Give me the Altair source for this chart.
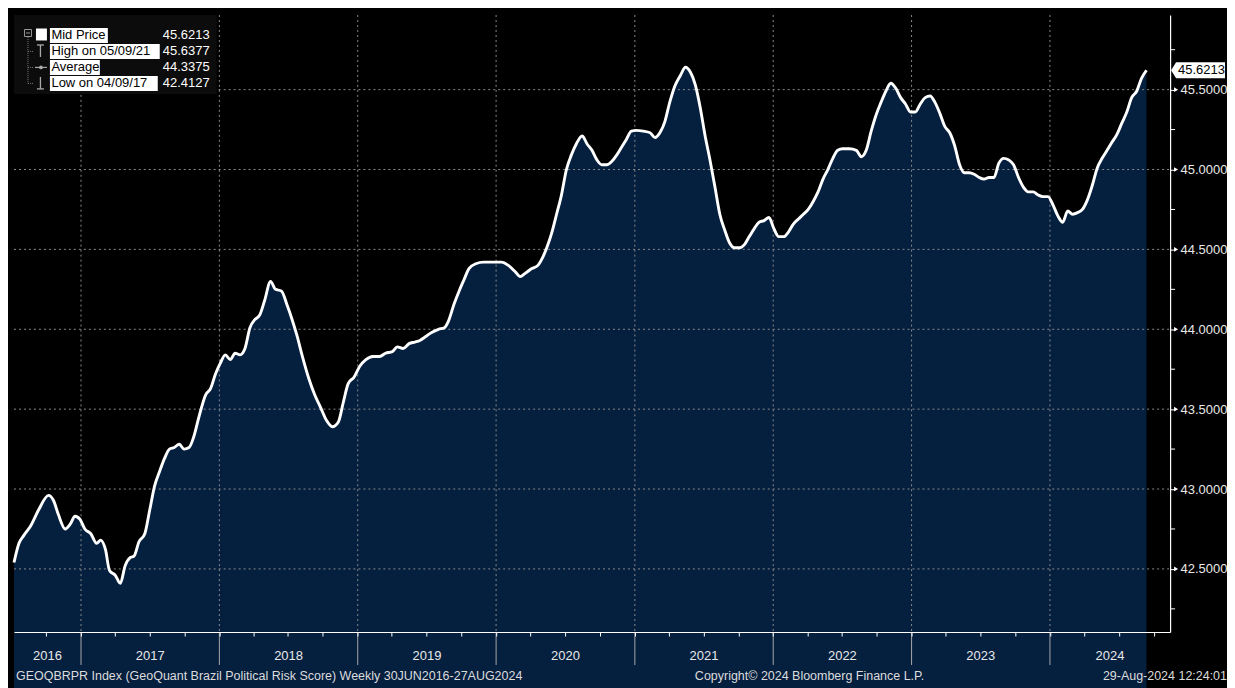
import altair as alt
import numpy as np
import pandas as pd

# ---------------- data ----------------
years = [2016.517, 2016.553, 2016.588, 2016.638, 2016.695, 2016.766, 2016.801, 2016.837, 2016.886, 2016.922,
         2016.957, 2016.993, 2017.028, 2017.071, 2017.113, 2017.142, 2017.177, 2017.206, 2017.248, 2017.284,
         2017.319, 2017.355, 2017.383, 2017.419, 2017.461, 2017.497, 2017.532, 2017.568, 2017.603, 2017.639,
         2017.674, 2017.710, 2017.745, 2017.781, 2017.816, 2017.852, 2017.901, 2017.937, 2017.972, 2018.008,
         2018.043, 2018.079, 2018.114, 2018.150, 2018.185, 2018.221, 2018.256, 2018.292, 2018.327, 2018.370,
         2018.405, 2018.448, 2018.490, 2018.526, 2018.561, 2018.597, 2018.647, 2018.689, 2018.732, 2018.774,
         2018.817, 2018.860, 2018.895, 2018.931, 2018.973, 2019.016, 2019.059, 2019.108, 2019.158, 2019.201,
         2019.250, 2019.286, 2019.328, 2019.371, 2019.413, 2019.449, 2019.484, 2019.534, 2019.584, 2019.626,
         2019.655, 2019.697, 2019.733, 2019.768, 2019.804, 2019.853, 2019.910, 2019.981, 2020.038, 2020.088,
         2020.138, 2020.173, 2020.209, 2020.258, 2020.301, 2020.336, 2020.365, 2020.400, 2020.436, 2020.471,
         2020.507, 2020.542, 2020.578, 2020.620, 2020.656, 2020.691, 2020.727, 2020.762, 2020.798, 2020.833,
         2020.869, 2020.904, 2020.940, 2020.975, 2021.011, 2021.061, 2021.110, 2021.146, 2021.181, 2021.217,
         2021.252, 2021.288, 2021.330, 2021.366, 2021.401, 2021.437, 2021.472, 2021.508, 2021.543, 2021.579,
         2021.614, 2021.650, 2021.685, 2021.721, 2021.756, 2021.792, 2021.827, 2021.863, 2021.898, 2021.934,
         2021.969, 2022.005, 2022.040, 2022.076, 2022.111, 2022.147, 2022.182, 2022.218, 2022.253, 2022.289,
         2022.324, 2022.360, 2022.395, 2022.431, 2022.466, 2022.502, 2022.551, 2022.601, 2022.637, 2022.672,
         2022.708, 2022.743, 2022.779, 2022.814, 2022.850, 2022.885, 2022.921, 2022.956, 2022.992, 2023.027,
         2023.063, 2023.098, 2023.134, 2023.169, 2023.205, 2023.240, 2023.276, 2023.311, 2023.347, 2023.382,
         2023.418, 2023.453, 2023.489, 2023.524, 2023.560, 2023.595, 2023.631, 2023.666, 2023.702, 2023.737,
         2023.773, 2023.808, 2023.844, 2023.879, 2023.915, 2023.950, 2023.986, 2024.021, 2024.057, 2024.092,
         2024.128, 2024.163, 2024.199, 2024.234, 2024.270, 2024.305, 2024.341, 2024.376, 2024.412, 2024.447,
         2024.483, 2024.518, 2024.554, 2024.589, 2024.625, 2024.660, 2024.696]

values = [42.54, 42.66, 42.71, 42.77, 42.87, 42.96, 42.93, 42.84, 42.75, 42.78,
          42.83, 42.81, 42.75, 42.72, 42.66, 42.68, 42.62, 42.49, 42.46, 42.41,
          42.52, 42.57, 42.58, 42.67, 42.72, 42.87, 43.02, 43.11, 43.19, 43.25,
          43.26, 43.28, 43.25, 43.26, 43.33, 43.45, 43.59, 43.63, 43.72, 43.79,
          43.84, 43.81, 43.85, 43.84, 43.88, 44.01, 44.06, 44.09, 44.18, 44.30,
          44.25, 44.24, 44.15, 44.06, 43.96, 43.84, 43.69, 43.59, 43.51, 43.43,
          43.39, 43.42, 43.54, 43.66, 43.70, 43.77, 43.81, 43.83, 43.83, 43.85,
          43.86, 43.89, 43.88, 43.91, 43.92, 43.93, 43.95, 43.98, 44.00, 44.01,
          44.05, 44.16, 44.24, 44.31, 44.38, 44.41, 44.42, 44.42, 44.42, 44.40,
          44.36, 44.33, 44.35, 44.38, 44.40, 44.45, 44.51, 44.60, 44.72, 44.84,
          45.00, 45.09, 45.16, 45.21, 45.16, 45.12, 45.06, 45.03, 45.03, 45.05,
          45.09, 45.14, 45.19, 45.24, 45.245, 45.24, 45.23, 45.20, 45.23, 45.30,
          45.42, 45.52, 45.59, 45.64, 45.61, 45.53, 45.39, 45.21, 45.06, 44.89,
          44.72, 44.62, 44.54, 44.51, 44.51, 44.53, 44.58, 44.63, 44.67, 44.68,
          44.70, 44.63, 44.58, 44.58, 44.61, 44.66, 44.69, 44.72, 44.75, 44.80,
          44.86, 44.94, 45.00, 45.07, 45.12, 45.13, 45.13, 45.12, 45.08, 45.12,
          45.24, 45.34, 45.42, 45.49, 45.54, 45.51, 45.45, 45.41, 45.36, 45.36,
          45.41, 45.45, 45.46, 45.42, 45.35, 45.27, 45.23, 45.15, 45.03, 44.98,
          44.98, 44.97, 44.95, 44.94, 44.95, 44.95, 45.04, 45.07, 45.06, 45.03,
          44.95, 44.89, 44.86, 44.86, 44.84, 44.83, 44.83, 44.78, 44.71, 44.67,
          44.74, 44.72, 44.73, 44.75, 44.81, 44.90, 45.01, 45.07, 45.12, 45.17,
          45.22, 45.29, 45.36, 45.45, 45.49, 45.57, 45.6213]

y_ticks = [42.5, 43.0, 43.5, 44.0, 44.5, 45.0, 45.5]
y_minor = [42.25, 42.75, 43.25, 43.75, 44.25, 44.75, 45.25, 45.75]
year_labels = ["2016", "2017", "2018", "2019", "2020", "2021", "2022", "2023", "2024"]
year_bounds = [2017, 2018, 2019, 2020, 2021, 2022, 2023, 2024]

legend_labels = ["Mid Price", "High on 05/09/21", "Average", "Low on 04/09/17"]
legend_values = ["45.6213", "45.6377", "44.3375", "42.4127"]
last_value = 45.6213

footer_left = "GEOQBRPR Index (GeoQuant Brazil Political Risk Score)  Weekly 30JUN2016-27AUG2024"
footer_mid = "Copyright\u00a9 2024 Bloomberg Finance L.P."
footer_right = "29-Aug-2024 12:24:01"

x_domain_dec = [2016.517, 2024.866]
y_domain = [42.105, 45.967]

# ---------------- helpers ----------------
FONT = "Liberation Sans"
NAVY = "#051f3f"
GRID = "#8a8a8a"
W, H = 1158, 618


def dec2ts(d):
    y = int(np.floor(d))
    s = pd.Timestamp(y, 1, 1)
    e = pd.Timestamp(y + 1, 1, 1)
    return s + (e - s) * (d - y)


def dt(ts):
    return alt.DateTime(year=ts.year, month=ts.month, date=ts.day,
                        hours=ts.hour, minutes=ts.minute)


x0, x1 = dec2ts(x_domain_dec[0]), dec2ts(x_domain_dec[1])
xscale = alt.Scale(domain=[dt(x0), dt(x1)])
yscale = alt.Scale(domain=y_domain, zero=False, nice=False)

df = pd.DataFrame({"d": [dec2ts(v) for v in years], "v": values})

quarters = []
for yy in range(2016, 2025):
    for mm in (1, 4, 7, 10):
        t = pd.Timestamp(yy, mm, 1)
        if x0 < t < x1:
            quarters.append(alt.DateTime(year=yy, month=mm, date=1))

bounds_df = pd.DataFrame({"d": [pd.Timestamp(y, 1, 1) for y in year_bounds]})
label_pos = []
for lab in year_labels:
    y = int(lab)
    a = max(pd.Timestamp(y, 1, 1), x0)
    b = min(pd.Timestamp(y + 1, 1, 1), x1)
    label_pos.append(a + (b - a) / 2)
labels_df = pd.DataFrame({"d": label_pos, "t": year_labels})

one = pd.DataFrame({"k": [0]})


def seg(xa, ya, xb, yb, color, width=1.0, dash=None):
    kw = dict(color=color, strokeWidth=width)
    if dash is not None:
        kw["strokeDash"] = dash
    return alt.Chart(one).mark_rule(**kw).encode(
        x=alt.value(xa), y=alt.value(ya), x2=alt.value(xb), y2=alt.value(yb))


def box(xa, ya, xb, yb, fill):
    return alt.Chart(one).mark_rect(color=fill).encode(
        x=alt.value(xa), y=alt.value(ya), x2=alt.value(xb), y2=alt.value(yb))


def txt(s, x, y, color, size=13, align="left"):
    return alt.Chart(one).mark_text(text=s, align=align, baseline="middle", font=FONT,
                                    fontSize=size, color=color).encode(
        x=alt.value(x), y=alt.value(y))


# ---------------- axes (identical in every layer so they merge) ----------------
xaxis = alt.Axis(values=quarters, labels=False, ticks=True, tickSize=4, tickColor="white",
                 domain=True, domainColor="white", domainWidth=1.2, grid=False, title=None,
                 zindex=1)
yaxis = alt.Axis(orient="right", values=y_ticks, format=".4f", labelFont=FONT, labelFontSize=13,
                 labelColor="#e8e8e8", tickColor="white", tickSize=5, labelPadding=5,
                 domain=True, domainColor="white", domainWidth=1.2, grid=False, title=None,
                 zindex=1)


def X(field):
    return alt.X(field, scale=xscale, axis=xaxis)


def Y(field):
    return alt.Y(field, scale=yscale, axis=yaxis)


area = alt.Chart(df).mark_area(color=NAVY, interpolate="monotone").encode(
    x=X("d:T"), y=Y("v:Q"), y2=alt.value(H))

hgrid = alt.Chart(pd.DataFrame({"v": y_ticks})).mark_rule(
    color=GRID, strokeWidth=1, strokeDash=[2, 3]).encode(
    y=Y("v:Q"), x=alt.value(0), x2=alt.value(W))

vgrid = alt.Chart(bounds_df).mark_rule(color=GRID, strokeWidth=1, strokeDash=[2, 3]).encode(
    x=X("d:T"), y=alt.value(0), y2=alt.value(H))

line = alt.Chart(df).mark_line(color="white", strokeWidth=2.9, interpolate="monotone").encode(
    x=X("d:T"), y=Y("v:Q"))

minor = alt.Chart(pd.DataFrame({"v": y_minor})).mark_rule(color="white", strokeWidth=1).encode(
    y=Y("v:Q"), x=alt.value(W), x2=alt.value(W + 5))

arrows = alt.Chart(pd.DataFrame({"v": y_ticks})).mark_point(
    shape="triangle-right", filled=True, size=22, color="white", opacity=1).encode(
    y=Y("v:Q"), x=alt.value(W + 6))

seps = alt.Chart(bounds_df).mark_rule(color="#a8a8a8", strokeWidth=1).encode(
    x=X("d:T"), y=alt.value(H + 1), y2=alt.value(H + 33))

ylabels = alt.Chart(labels_df).mark_text(font=FONT, fontSize=13, color="#e8e8e8",
                                         baseline="middle", align="center").encode(
    x=X("d:T"), y=alt.value(H + 24), text="t:N")

# last value tag
TAG_PATH = "M -1 0 L -0.815 -0.296 L 1 -0.296 L 1 0.296 L -0.815 0.296 Z"
tagdf = pd.DataFrame({"v": [last_value]})
tag = alt.Chart(tagdf).mark_point(shape=TAG_PATH, size=2916, filled=True, color="white",
                                  opacity=1, strokeWidth=0).encode(
    y=Y("v:Q"), x=alt.value(W + 28))
tagtext = alt.Chart(tagdf).mark_text(font=FONT, fontSize=13, color="black", align="left",
                                     baseline="middle").encode(
    y=Y("v:Q"), x=alt.value(W + 8), text=alt.Text("v:Q", format=".4f"))

# footer
fy = H + 44
footer = [txt(footer_left, 2, fy, "#dcdcdc", 12.5),
          txt(footer_mid, 682, fy, "#dcdcdc", 12.5),
          txt(footer_right, W + 57, fy, "#dcdcdc", 12.5, align="right")]

# legend (top-left)
rows_y = [20.5, 36.5, 52.5, 68.5]
hl_right = [94, 146, 86, 144]
legend = [box(0, 0, 203, 79, "#0c0c0c")]
legend += [
    alt.Chart(one).mark_rect(fill="#0c0c0c", stroke="#9a9a9a", strokeWidth=1).encode(
        x=alt.value(10.5), y=alt.value(14.5), x2=alt.value(17.5), y2=alt.value(21.5)),
    seg(12, 18, 16, 18, "#9a9a9a"),
    seg(14, 22, 14, 68.5, "#777777", 1, [1, 1]),
    seg(14, 36.5, 20, 36.5, "#777777", 1, [1, 1]),
    seg(14, 52.5, 20, 52.5, "#777777", 1, [1, 1]),
    seg(14, 68.5, 20, 68.5, "#777777", 1, [1, 1]),
    seg(23, 30, 30, 30, "#aaaaaa", 1.3),
    seg(26.5, 30, 26.5, 42, "#aaaaaa", 1.3),
    seg(21, 52.5, 33, 52.5, "#aaaaaa", 1.2),
    alt.Chart(one).mark_point(shape="circle", filled=True, size=14, color="#aaaaaa", opacity=1).encode(
        x=alt.value(27), y=alt.value(52.5)),
    seg(26.5, 62, 26.5, 74, "#aaaaaa", 1.3),
    seg(23, 74, 30, 74, "#aaaaaa", 1.3),
    box(22, 13.5, 33, 25.5, "white"),
]
for lab, val, yy, xr in zip(legend_labels, legend_values, rows_y, hl_right):
    legend.append(box(36, yy - 7.5, xr, yy + 7.5, "white"))
    legend.append(txt(lab, 37.5, yy, "black", 13))
    legend.append(txt(val, 196, yy, "white", 13, align="right"))

chart = alt.layer(
    area, hgrid, vgrid, line, minor, arrows, seps, ylabels, *footer, *legend, tag, tagtext
).properties(
    width=W, height=H, padding=0, background="black"
).configure_view(stroke=None)

chart.save("out.html", embed_options={"renderer": "svg", "actions": False})
